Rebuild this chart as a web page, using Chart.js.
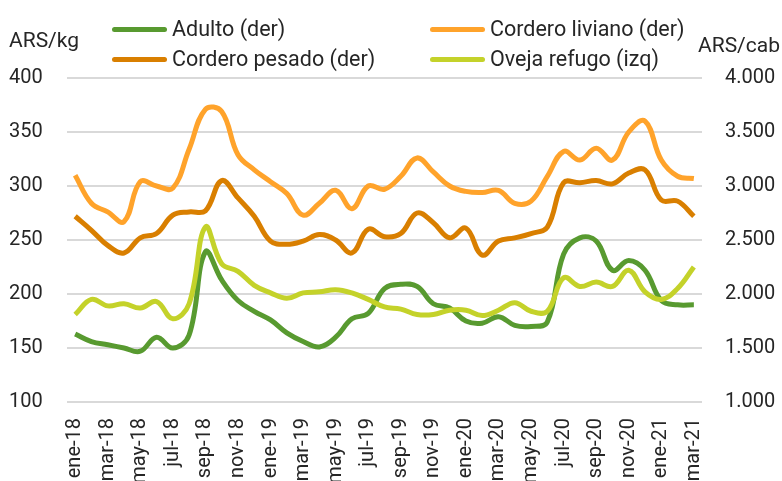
<!DOCTYPE html>
<html lang="es">
<head>
    <meta charset="UTF-8">
    <title>Precios ovinos</title>
    <script src="https://cdn.jsdelivr.net/npm/chart.js"></script>
    <style>
        body { margin: 0; background: #fff; font-family: Roboto, sans-serif; color: #262626; }
        #wrap { position: relative; width: 782px; height: 481px; }
        .axisTitle { position: absolute; font-size: 21px; line-height: 24px; white-space: nowrap; }
        .legItem { position: absolute; display: flex; align-items: center; font-size: 21.5px; line-height: 24px; white-space: nowrap; }
        .legItem span.mark { display: inline-block; width: 55px; height: 5px; border-radius: 3px; margin-right: 5px; }
    </style>
</head>
<body>
    <div id="wrap">
        <canvas id="chart"></canvas>
        <div class="axisTitle" style="left:9px; top:28px;">ARS/kg</div>
        <div class="axisTitle" style="left:698px; top:33px;">ARS/cab</div>
        <div id="legend"></div>
    </div>

    <script>
        const months = ["ene","feb","mar","abr","may","jun","jul","ago","sep","oct","nov","dic"];
        const labels = [];
        for (let y = 18; y <= 21; y++) {
            months.forEach(m => { if (labels.length < 39) labels.push(m + "-" + y); });
        }

        // series "der" in ARS/cab (right axis), "izq" in ARS/kg (left axis)
        const adulto = [1630,1560,1530,1500,1470,1600,1500,1620,2390,2130,1940,1840,1760,1640,1560,1510,1600,1770,1820,2050,2090,2070,1910,1870,1750,1730,1790,1710,1700,1740,2370,2520,2490,2220,2310,2220,1940,1900,1900];
        const corderoLiviano = [3100,2840,2760,2670,3040,3000,2980,3340,3710,3690,3290,3150,3040,2930,2730,2840,2960,2790,3000,2970,3090,3260,3130,3000,2950,2940,2960,2840,2860,3090,3320,3240,3350,3240,3500,3600,3240,3090,3070];
        const corderoPesado = [2720,2590,2450,2380,2520,2560,2730,2760,2770,3050,2890,2720,2490,2460,2490,2550,2500,2380,2600,2530,2560,2750,2660,2520,2610,2360,2490,2520,2560,2620,3030,3030,3050,3020,3120,3150,2870,2860,2720];
        const ovejaRefugo = [181,195,189,191,187,193,177,191,262,228,221,208,201,196,201,202,204,201,195,188,186,181,181,185,185,180,185,192,184,184,215,207,211,207,222,202,195,205,225];

        const series = [
            { label: "Adulto (der)", data: adulto, color: "#589a30", axis: "y1", order: 3 },
            { label: "Cordero liviano (der)", data: corderoLiviano, color: "#ffa32b", axis: "y1", order: 2 },
            { label: "Cordero pesado (der)", data: corderoPesado, color: "#d97f00", axis: "y1", order: 1 },
            { label: "Oveja refugo (izq)", data: ovejaRefugo, color: "#c4d22a", axis: "y", order: 0 }
        ];

        // legend in two columns
        const legendPos = [[112, 17], [430, 17], [112, 47], [430, 47]];
        const legend = document.getElementById("legend");
        series.forEach((s, i) => {
            const item = document.createElement("div");
            item.className = "legItem";
            item.style.left = legendPos[i][0] + "px";
            item.style.top = legendPos[i][1] + "px";
            item.innerHTML = '<span class="mark" style="background:' + s.color + '"></span>' + s.label;
            legend.appendChild(item);
        });

        Chart.defaults.font.family = "Roboto";
        Chart.defaults.font.size = 20;
        Chart.defaults.color = "#262626";

        function miles(v) {
            return String(v).replace(/\B(?=(\d{3})+(?!\d))/g, ".");
        }

        new Chart(document.getElementById("chart"), {
            type: "line",
            data: {
                labels: labels,
                datasets: series.map(s => ({
                    label: s.label,
                    data: s.data,
                    yAxisID: s.axis,
                    order: s.order,
                    borderColor: s.color,
                    backgroundColor: s.color,
                    borderWidth: 5,
                    pointRadius: 0,
                    tension: 0.4,
                    fill: false
                }))
            },
            options: {
                responsive: true,
                maintainAspectRatio: false,
                animation: false,
                layout: { padding: { top: 78, left: 9, right: 0, bottom: 0 } },
                plugins: { legend: { display: false }, tooltip: { enabled: false } },
                scales: {
                    x: {
                        offset: true,
                        grid: { display: false, drawTicks: false },
                        border: { display: false },
                        ticks: {
                            autoSkip: false,
                            maxRotation: 90,
                            minRotation: 90,
                            padding: 16,
                            callback: (v, i) => i % 2 === 0 ? labels[i] : ""
                        },
                        afterFit: s => { s.height = 79; }
                    },
                    y: {
                        position: "left",
                        min: 100,
                        max: 400,
                        grid: { color: "#d9d9d9", lineWidth: 2, drawTicks: false },
                        border: { display: false },
                        ticks: { stepSize: 50, crossAlign: "far" },
                        afterFit: s => { s.width = 58; }
                    },
                    y1: {
                        position: "right",
                        min: 1000,
                        max: 4000,
                        grid: { display: false, drawTicks: false },
                        border: { display: false },
                        ticks: { stepSize: 500, padding: 23, callback: v => miles(v) },
                        afterFit: s => { s.width = 80; }
                    }
                }
            }
        });
    </script>
</body>
</html>
